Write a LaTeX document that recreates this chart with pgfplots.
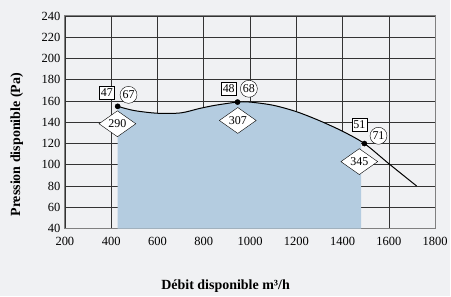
\documentclass[border=0pt]{standalone}
\usepackage{pgfplots}
\pgfplotsset{compat=1.18}
\usetikzlibrary{shapes.geometric}
\usepackage{fontspec}
\setmainfont{Liberation Serif}
\definecolor{bg}{RGB}{240,241,243}
\definecolor{fillb}{RGB}{180,204,224}
\begin{document}
\begin{tikzpicture}[x=1pt,y=1pt]
\fill[bg] (-65,-68) rectangle (386,229);
\begin{axis}[
  at={(0,0)}, anchor=south west,
  scale only axis, width=371pt, height=213pt,
  xmin=200, xmax=1800, ymin=40, ymax=240,
  xtick={200,400,...,1800}, ytick={40,60,...,240},
  grid=major,
  grid style={black!80, line width=0.6pt},
  axis line style={black!50, line width=1pt},
  tick style={draw=none},
  /pgf/number format/assume math mode=true,
  /pgf/number format/1000 sep={},
  tick label style={font=\fontsize{12.5}{13}\selectfont},
  xticklabel style={yshift=-5pt},
  yticklabel style={xshift=-1pt},
  xlabel={\textbf{Débit disponible m³/h}},
  ylabel={\textbf{Pression disponible (Pa)}},
  label style={font=\fontsize{14}{15}\selectfont},
  xlabel style={at={(axis description cs:0.434,-0.272)}, anchor=center},
  ylabel style={at={(axis description cs:-0.13,0.394)}, anchor=center},
  axis background/.style={fill=bg},
  clip=true,
]
\addplot[fill=fillb, draw=none, smooth] coordinates {
 (428,155) (500,151) (600,148.5) (700,148.8) (782,153) (850,156) (946,159) (1000,159)
 (1100,156) (1200,150) (1300,141.5) (1400,131.5) (1480,121.8)} \closedcycle;
\addplot[black, line width=1pt, smooth] coordinates {
 (428,155) (500,151) (600,148.5) (700,148.8) (782,153) (850,156) (946,159) (1000,159)
 (1100,156) (1200,150) (1300,141.5) (1400,131.5) (1494,120) (1600,101) (1720,80)};
\addplot[only marks, mark=*, mark size=2.6pt, black] coordinates {(428,155) (946,159) (1494,120)};
\tikzset{lab/.style={font=\fontsize{12}{13}\selectfont, inner sep=1.5pt}}
\tikzset{bx/.style={lab, draw, fill=white, minimum width=15pt, minimum height=13pt, inner sep=0.5pt}}
\tikzset{ci/.style={lab, draw, circle, fill=white, minimum size=17pt, inner sep=0pt}}
\tikzset{di/.style={lab, draw, diamond, fill=white, minimum width=37pt, minimum height=21pt, inner sep=0pt}}
\node[bx] at (axis cs:381,168) {47};
\node[ci] at (axis cs:475,165.8) {67};
\node[di] at (axis cs:427,138.6) {290};
\node[bx] at (axis cs:908,171.5) {48};
\node[ci] at (axis cs:995,171.5) {68};
\node[di] at (axis cs:947,141.7) {307};
\node[bx] at (axis cs:1472,137.7) {51};
\node[ci] at (axis cs:1555,127.3) {71};
\node[di] at (axis cs:1472,103) {345};
\end{axis}
\end{tikzpicture}
\end{document}
